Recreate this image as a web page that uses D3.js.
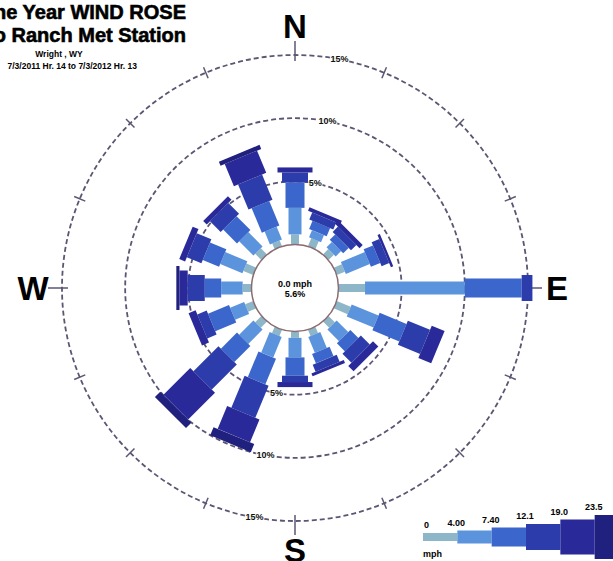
<!DOCTYPE html>
<html>
<head>
<meta charset="utf-8">
<script src="https://cdn.jsdelivr.net/npm/d3@7/dist/d3.min.js"></script>
<style>
  html, body { margin: 0; padding: 0; background: #fff; overflow: hidden; }
  svg { display: block; font-family: "Liberation Sans", Arial, sans-serif; }
</style>
</head>
<body>
<div id="rose"></div>
<script>
// wind directions, clockwise from north
var directions = ["N", "NNE", "NE", "ENE", "E", "ESE", "SE", "SSE",
                  "S", "SSW", "SW", "WSW", "W", "WNW", "NW", "NNW"];

// frequency (%) per speed class, one value per direction
var spd0_4   = [0.8, 0.7, 0.6, 0.7, 2.1, 1.2, 0.7, 0.55, 0.5, 0.55, 0.7, 0.7, 0.7, 0.85, 0.7, 0.5];
var spd4_7   = [2.1, 0.6, 0.6, 2.05, 7.9, 2.3, 1.3, 1.35, 1.55, 1.75, 1.6, 1.2, 1.7, 1.9, 1.6, 1.1];
var spd7_12  = [2.0, 0.7, 0.6, 0.8, 4.5, 2.3, 0.9, 0.8, 1.45, 2.2, 1.8, 1.8, 1.3, 1.4, 1.55, 2.1];
var spd12_19 = [0.8, 0.6, 0.6, 0.65, 0.85, 1.9, 1.0, 0.6, 0.5, 2.75, 2.8, 0.8, 1.35, 1.25, 1.2, 2.15];
var spd19_23 = [0.4, 0.3, 0.35, 0.2, 0, 1.1, 0.6, 0.25, 0.4, 1.95, 3.0, 0.6, 0.65, 0.5, 0.4, 1.9];
var spd23up  = [0, 0, 0, 0, 0, 0, 0, 0, 0, 0.7, 0.6, 0, 0.25, 0, 0, 0.35];

var speedLabels = ["0", "4.00", "7.40", "12.1", "19.0", "23.5"];
var ringValues = [5, 10, 15];
var calmSpeed = "0.0 mph";
var calmPct = "5.6%";

var titleLines = ["One Year WIND ROSE", "Bo Ranch Met Station"];
var subLines = ["Wright , WY", "7/3/2011 Hr. 14 to 7/3/2012 Hr. 13"];

var width = 613, height = 561;
var cx = 295, cy = 288;

var svg = d3.select("#rose").append("svg")
    .attr("width", width)
    .attr("height", height);

var keys = ["b0", "b1", "b2", "b3", "b4", "b5"];
var series = [spd0_4, spd4_7, spd7_12, spd12_19, spd19_23, spd23up];
var table = directions.map(function(d, i) {
  var row = { dir: d };
  keys.forEach(function(k, j) { row[k] = series[j][i]; });
  return row;
});

var r = d3.scaleLinear().domain([0, 15]).range([43.5, 233]);
var angle = d3.scalePoint().domain(directions).range([0, 337.5]);
var color = d3.scaleOrdinal().domain(keys)
    .range(["#8db6c9", "#5b94dd", "#3b66cc", "#2d3cab", "#29299a", "#20207f"]);
var barWidth = d3.scaleOrdinal().domain(keys).range([8, 13, 19, 26, 35, 44]);

var g = svg.append("g").attr("transform", "translate(" + cx + "," + cy + ")");

// rings
g.selectAll(".ring")
    .data(ringValues)
  .enter().append("circle")
    .attr("class", "ring")
    .attr("r", function(d) { return r(d); })
    .attr("fill", "none")
    .attr("stroke", "#5d5673")
    .attr("stroke-width", 1.8)
    .attr("stroke-dasharray", "5,3");

// tick marks on outer ring
g.selectAll(".tick")
    .data(directions)
  .enter().append("line")
    .attr("transform", function(d) { return "rotate(" + angle(d) + ")"; })
    .attr("y1", -r(15) + 6)
    .attr("y2", function(d, i) { return i % 4 == 0 ? -r(15) - 14 : -r(15) - 6; })
    .attr("stroke", "#5d5673")
    .attr("stroke-width", 1.5);

// stacked bars
var stacked = d3.stack().keys(keys)(table);

g.selectAll(".layer")
    .data(stacked)
  .enter().append("g")
    .attr("class", "layer")
    .attr("fill", function(d) { return color(d.key); })
  .selectAll("rect")
    .data(function(d) { return d.map(function(p) { return { key: d.key, p: p }; }); })
  .enter().append("rect")
    .filter(function(d) { return d.p[1] - d.p[0] > 0; })
    .attr("transform", function(d) { return "rotate(" + angle(d.p.data.dir) + ")"; })
    .attr("x", function(d) { return -barWidth(d.key) / 2; })
    .attr("width", function(d) { return barWidth(d.key); })
    .attr("y", function(d) { return -r(d.p[1]); })
    .attr("height", function(d) { return r(d.p[1]) - r(d.p[0]); });

// calm circle
g.append("circle")
    .attr("r", r(0))
    .attr("fill", "#fff")
    .attr("stroke", "#8a6d70")
    .attr("stroke-width", 1.5);

g.append("text")
    .attr("text-anchor", "middle")
    .attr("y", -1)
    .attr("font-size", 9).attr("font-weight", "bold")
    .text(calmSpeed);
g.append("text")
    .attr("text-anchor", "middle")
    .attr("y", 9)
    .attr("font-size", 9).attr("font-weight", "bold")
    .text(calmPct);

// ring labels (top and bottom)
[11, 190].forEach(function(a) {
  g.selectAll(null)
      .data(ringValues)
    .enter().append("text")
      .attr("x", function(d) { return r(d) * Math.sin(a * Math.PI / 180); })
      .attr("y", function(d) { return -r(d) * Math.cos(a * Math.PI / 180) + 3; })
      .attr("text-anchor", "middle")
      .attr("font-size", 9).attr("font-weight", "bold")
      .attr("fill", "#111")
      .attr("stroke", "#fff").attr("stroke-width", 2).attr("paint-order", "stroke")
      .text(function(d) { return d + "%"; });
});

// compass letters
var compass = [["N", 0], ["E", 90], ["S", 180], ["W", 270]];
g.selectAll(".compass")
    .data(compass)
  .enter().append("text")
    .attr("class", "compass")
    .attr("x", function(d) { return (r(15) + 29) * Math.sin(d[1] * Math.PI / 180); })
    .attr("y", function(d) { return -(r(15) + 29) * Math.cos(d[1] * Math.PI / 180) + 12; })
    .attr("text-anchor", "middle")
    .attr("font-size", 33).attr("font-weight", "bold")
    .text(function(d) { return d[0]; });

// title, cut by the left edge as in the scan
svg.selectAll(".title")
    .data(titleLines)
  .enter().append("text")
    .attr("x", 186)
    .attr("y", function(d, i) { return 19 + i * 23; })
    .attr("text-anchor", "end")
    .attr("font-size", 20).attr("font-weight", "bold")
    .attr("stroke", "#000").attr("stroke-width", 0.6)
    .text(function(d) { return d; });

svg.append("text")
    .attr("x", 59).attr("y", 57)
    .attr("text-anchor", "middle")
    .attr("font-size", 8.5).attr("font-weight", "bold")
    .text(subLines[0]);
svg.append("text")
    .attr("x", 137).attr("y", 69)
    .attr("text-anchor", "end")
    .attr("font-size", 8.5).attr("font-weight", "bold")
    .text(subLines[1]);

// legend
var lx = d3.scaleLinear().domain([0, 6]).range([423, 629]);
var legY = 537;
var leg = svg.append("g");
leg.selectAll("rect")
    .data(keys)
  .enter().append("rect")
    .attr("x", function(d, i) { return lx(i); })
    .attr("width", function(d, i) { return lx(i + 1) - lx(i); })
    .attr("y", function(d) { return legY - barWidth(d) / 2; })
    .attr("height", function(d) { return barWidth(d); })
    .attr("fill", function(d) { return color(d); });
leg.selectAll("text")
    .data(speedLabels)
  .enter().append("text")
    .attr("x", function(d, i) { return lx(i) + (i == 0 ? 1 : -1); })
    .attr("y", function(d, i) { return legY - barWidth(keys[i]) / 2 - 5; })
    .attr("text-anchor", function(d, i) { return i == 0 ? "start" : "middle"; })
    .attr("font-size", 9).attr("font-weight", "bold")
    .text(function(d) { return d; });
leg.append("text")
    .attr("x", 423).attr("y", 557)
    .attr("font-size", 9).attr("font-weight", "bold")
    .text("mph");
</script>
</body>
</html>
